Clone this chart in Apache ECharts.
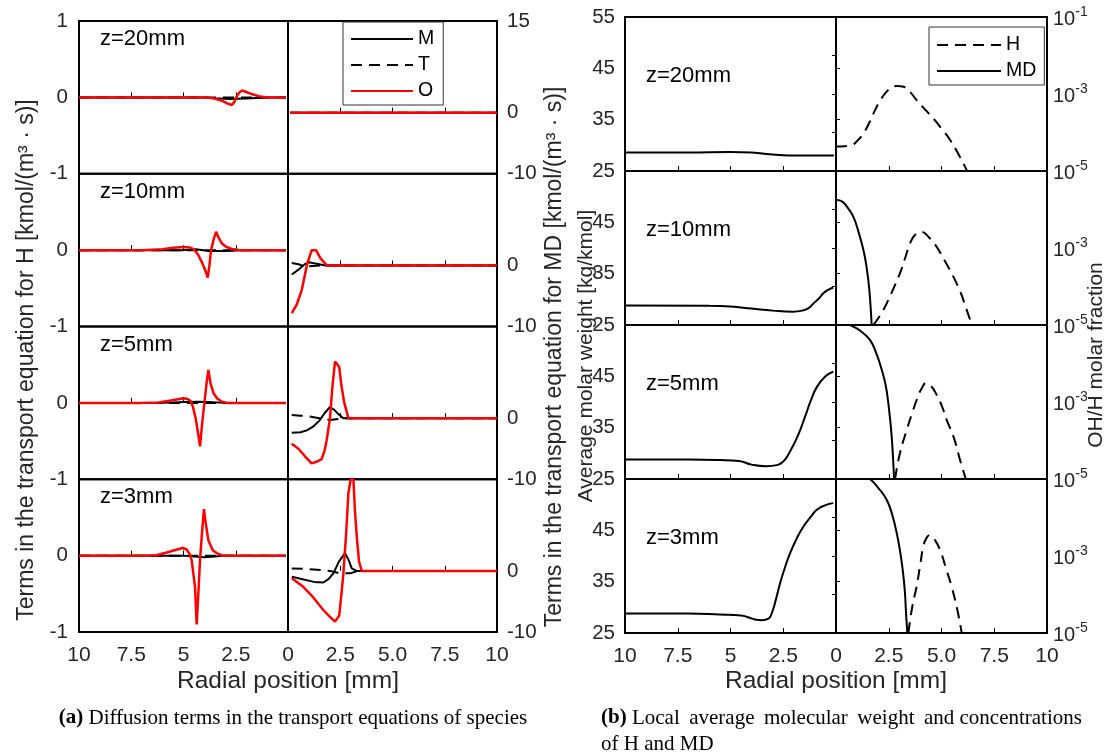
<!DOCTYPE html>
<html><head><meta charset="utf-8">
<script src="https://cdn.jsdelivr.net/npm/echarts@6/dist/echarts.min.js"></script>
<style>html,body{margin:0;padding:0;background:#fff}#c{width:1111px;height:756px}</style>
</head><body><div id="c"></div>
<script>
// ---------- labels ----------
const zLabels = ['z=20mm', 'z=10mm', 'z=5mm', 'z=3mm'];
const xTickLeft = ['0', '2.5', '5', '7.5', '10'];
const xTickRight = ['0', '2.5', '5.0', '7.5', '10'];
const legendA = ['M', 'T', 'O'];
const legendB = ['H', 'MD'];

// ---------- panel (a) left: H equation terms [r, value] ----------
const hM20 = [[10,0],[4,0],[3.5,-0.01],[2.8,-0.02],[2,-0.015],[1.2,-0.005],[0.8,0],[0.1,0]];
const hT20 = [[10,0],[0.1,0]];
const hO20 = [[10,0],[4,0],[3.6,-0.01],[3.2,-0.04],[2.9,-0.08],[2.68,-0.1],[2.55,-0.05],[2.44,0.02],[2.3,0.07],[2.19,0.09],[2.0,0.07],[1.7,0.04],[1.4,0.015],[1.0,0],[0.1,0]];
const hM10 = [[10,0],[5,0],[4.4,0.01],[3.8,-0.01],[3,-0.01],[2,0],[0.1,0]];
const hT10 = [[10,0],[0.1,0]];
const hO10 = [[10,0],[7,0],[6,0.01],[5.5,0.03],[5.0,0.04],[4.7,0.035],[4.5,0.01],[4.3,-0.06],[4.1,-0.17],[3.95,-0.27],[3.84,-0.36],[3.76,-0.2],[3.68,0],[3.55,0.15],[3.44,0.24],[3.35,0.18],[3.17,0.09],[3.0,0.05],[2.7,0.015],[2.3,0],[0.1,0]];
const hM5 = [[10,0],[6,0],[5,0.01],[4.3,0.015],[3.8,0.01],[3,0],[0.1,0]];
const hT5 = [[10,0],[0.1,0]];
const hO5 = [[10,0],[7,0],[6.2,0.005],[5.6,0.03],[5.0,0.06],[4.8,0.05],[4.65,0.02],[4.55,-0.05],[4.42,-0.2],[4.3,-0.4],[4.21,-0.57],[4.1,-0.25],[4.0,0],[3.9,0.25],[3.81,0.43],[3.7,0.25],[3.57,0.13],[3.4,0.06],[3.2,0.02],[2.9,0],[0.1,0]];
const hM3 = [[10,0],[5,0],[4.5,-0.01],[4.0,-0.02],[3.5,-0.01],[3,0],[0.1,0]];
const hT3 = [[10,0],[0.1,0]];
const hO3 = [[10,0],[7,0],[6.3,0.005],[5.8,0.04],[5.3,0.08],[5.04,0.1],[4.85,0.08],[4.7,0.02],[4.61,-0.06],[4.45,-0.41],[4.37,-0.9],[4.28,-0.45],[4.21,-0.06],[4.1,0.35],[4.02,0.61],[3.95,0.45],[3.81,0.2],[3.6,0.07],[3.4,0.03],[3.1,0],[0.1,0]];

// ---------- panel (a) right: MD equation terms [r, value] ----------
const mdM20 = [[0.1,0],[10,0]];
const mdT20 = [[0.1,0],[10,0]];
const mdO20 = [[0.1,0],[10,0]];
const mdM10 = [[0.18,-1.5],[0.5,-0.7],[0.8,0.2],[1.0,0.5],[1.3,0.3],[1.8,0],[10,0]];
const mdT10 = [[0.18,0.4],[0.5,0.2],[0.8,-0.2],[1.2,-0.1],[1.6,0],[10,0]];
const mdO10 = [[0.18,-7.8],[0.42,-6.4],[0.66,-4.0],[0.9,0],[1.13,2.5],[1.34,2.5],[1.55,1.2],[1.85,0],[10,0]];
const mdM5 = [[0.18,-2.4],[0.6,-2.3],[0.9,-2.0],[1.2,-1.4],[1.5,-0.4],[1.75,0.8],[2.0,1.8],[2.2,1.4],[2.4,0.7],[2.65,0],[10,0]];
const mdT5 = [[0.18,0.5],[0.6,0.4],[1.0,0.3],[1.5,0.0],[2.0,-0.3],[2.5,-0.1],[2.8,0],[10,0]];
const mdO5 = [[0.18,-4.2],[0.5,-5.0],[0.8,-6.2],[1.13,-7.4],[1.4,-7.1],[1.61,-6.7],[1.75,-5.3],[1.85,-3.6],[2.01,0],[2.12,5],[2.25,9.25],[2.45,8.4],[2.55,5.5],[2.68,2.7],[2.89,0],[10,0]];
const mdM3 = [[0.18,-0.95],[0.6,-1.3],[1.24,-1.8],[1.69,-1.9],[1.95,-1.3],[2.17,-0.4],[2.45,1.6],[2.73,2.9],[2.9,1.8],[3.05,0.4],[3.29,0],[10,0]];
const mdT3 = [[0.18,0.4],[1.0,0.3],[2.0,0],[2.49,-0.4],[2.97,-0.4],[3.37,0],[10,0]];
const mdO3 = [[0.18,-1.2],[0.73,-2.6],[1.2,-4.3],[1.69,-6.4],[2.0,-7.5],[2.25,-8.3],[2.45,-7.3],[2.55,-4],[2.65,-0.4],[2.78,6],[2.89,12.7],[3.0,15],[3.13,15],[3.2,10],[3.29,5.6],[3.4,1.5],[3.53,0],[10,0]];

// ---------- panel (b) left: average molar weight [r, kg/kmol] ----------
const mw20 = [[10,28.6],[7,28.6],[5,28.7],[4,28.6],[3.5,28.4],[3,28.2],[2.5,28.05],[2,28.0],[0.1,28.0]];
const mw10 = [[10,28.8],[6,28.75],[5,28.6],[4,28.2],[3,27.8],[2.04,27.6],[1.6,27.8],[1.3,28.3],[1.07,29.2],[0.8,30.2],[0.6,31.2],[0.35,31.9],[0.13,32.3]];
const mw5 = [[10,28.8],[7,28.8],[5.5,28.7],[4.6,28.5],[4.0,27.8],[3.3,27.5],[2.8,27.7],[2.5,28.4],[2.2,30.2],[1.8,33.5],[1.47,37.1],[1.2,40.2],[0.91,42.9],[0.5,45.0],[0.13,45.9]];
const mw3 = [[10,28.8],[7,28.8],[5.5,28.6],[4.5,28.4],[3.9,27.7],[3.52,27.5],[3.2,27.8],[3.05,28.8],[2.85,31.5],[2.65,34.7],[2.4,38],[2.18,40.5],[1.85,43.5],[1.55,45.7],[1.2,47.6],[0.91,49],[0.5,49.9],[0.13,50.3]];

// ---------- panel (b) right: molar fractions [r, fraction] ----------
const fracH20 = [[0,4.3e-5],[0.7,4.6e-5],[1.0,6.0e-5],[1.3,9.5e-5],[1.6,1.9e-4],[1.85,3.8e-4],[2.1,6.9e-4],[2.4,1.15e-3],[2.65,1.48e-3],[2.9,1.62e-3],[3.2,1.55e-3],[3.5,1.15e-3],[3.82,6.9e-4],[4.25,3.8e-4],[4.68,2.1e-4],[5.05,1.17e-4],[5.4,6.5e-5],[5.8,2.75e-5],[6.19,1.07e-5],[6.3,7.9e-6]];
const fracMD20 = [];
const fracH10 = [[1.77,1e-5],[2.1,1.8e-5],[2.4,3.6e-5],[2.7,8.3e-5],[3.03,2.2e-4],[3.3,6.0e-4],[3.51,1.32e-3],[3.75,2.2e-3],[4.06,2.6e-3],[4.4,1.9e-3],[4.77,1.07e-3],[5.15,4.7e-4],[5.56,1.8e-4],[5.9,7.1e-5],[6.19,2.5e-5],[6.47,8.9e-6]];
const fracMD10 = [[0,1.8e-2],[0.3,1.6e-2],[0.55,1.12e-2],[0.82,6.5e-3],[1.05,2.8e-3],[1.3,8.9e-4],[1.45,3.2e-4],[1.58,8.1e-5],[1.69,1e-5]];
const fracH5 = [[2.8,1e-5],[3.03,4.7e-5],[3.35,1.86e-4],[3.6,5.0e-4],[3.82,1.12e-3],[4.05,2.2e-3],[4.27,3.1e-3],[4.5,2.6e-3],[4.69,1.86e-3],[5.0,8.3e-4],[5.25,3.4e-4],[5.6,1.12e-4],[5.88,3.1e-5],[6.15,1e-5]];
const fracMD5 = [[0,0.16],[0.3,0.13],[0.66,0.1],[1.1,0.074],[1.61,0.041],[1.95,0.016],[2.17,6.8e-3],[2.35,2.8e-3],[2.48,9.3e-4],[2.64,1.26e-4],[2.75,1e-5]];
const fracH3 = [[3.43,1e-5],[3.62,5.0e-5],[3.82,1.6e-4],[4.0,6.3e-4],[4.14,1.8e-3],[4.3,3.0e-3],[4.45,3.5e-3],[4.65,2.8e-3],[4.93,1.45e-3],[5.2,5.0e-4],[5.48,1.6e-4],[5.75,4.0e-5],[5.96,1e-5]];
const fracMD3 = [[0,0.25],[1.0,0.16],[1.61,0.1],[2.0,0.059],[2.4,0.029],[2.65,0.0126],[2.88,3.9e-3],[3.03,1.4e-3],[3.16,4.4e-4],[3.26,1.26e-4],[3.32,3.2e-5],[3.38,1e-5]];

const hM = [hM20, hM10, hM5, hM3], hT = [hT20, hT10, hT5, hT3], hO = [hO20, hO10, hO5, hO3];
const mdM = [mdM20, mdM10, mdM5, mdM3], mdT = [mdT20, mdT10, mdT5, mdT3], mdO = [mdO20, mdO10, mdO5, mdO3];
const mw = [mw20, mw10, mw5, mw3];
const fracH = [fracH20, fracH10, fracH5, fracH3], fracMD = [fracMD20, fracMD10, fracMD5, fracMD3];

// ---------- layout ----------
const A = {x0: 79, x1: 288, x2: 497, top: 21, rowH: 152.75};
const B = {x0: 625, x1: 836, x2: 1047, top: 17, rowH: 154};
const font = 'Liberation Sans, Arial, sans-serif';
const serif = 'Liberation Serif, Times New Roman, serif';
const tickColor = '#262626';
const dash = [11, 7];
const tickSize = 20.5;

const grids = [], xAxes = [], yAxes = [], series = [], graphics = [];

function addGrid(left, top, width, height) {
  grids.push({left, top, width, height, show: true, borderColor: '#000', borderWidth: 2, backgroundColor: 'transparent', containLabel: false});
  return grids.length - 1;
}
function addX(g, isLeft, isBottom) {
  const labels = isLeft ? xTickLeft : xTickRight;
  xAxes.push({gridIndex: g, type: 'value', min: 0, max: 10, interval: 2.5, inverse: isLeft,
    axisLine: {show: false}, splitLine: {show: false},
    axisTick: {show: true, inside: true, length: 5, lineStyle: {color: '#000', width: 1}},
    axisLabel: {show: isBottom, margin: 13, fontSize: 21, fontFamily: font, color: tickColor,
      showMinLabel: isLeft, showMaxLabel: true,
      formatter: v => labels[Math.round(v / 2.5)]}});
  return xAxes.length - 1;
}
function line(name, xi, yi, data, color, width, type, smooth) {
  const s = {name, type: 'line', xAxisIndex: xi, yAxisIndex: yi, data, symbol: 'none', showSymbol: false,
    smooth: smooth || false, clip: true, silent: true, animation: false,
    lineStyle: {color, width, type}, itemStyle: {color}};
  return s;
}
function txt(x, y, text, size, o) {
  o = o || {};
  return {type: 'text', x, y, rotation: o.rot || 0, silent: true, z: 100,
    style: {text, fontSize: size, fontFamily: o.family || font, fill: o.fill || tickColor,
      align: o.align || 'center', verticalAlign: o.va || 'middle', rich: o.rich}};
}

// ---------- panel (a) ----------
for (let i = 0; i < 4; i++) {
  const top = A.top + i * A.rowH, bottom = i === 3;
  let g = addGrid(A.x0, top, A.x1 - A.x0, A.rowH);
  let xi = addX(g, true, bottom);
  yAxes.push({gridIndex: g, type: 'value', min: -1, max: 1, interval: 1, position: 'left',
    axisLine: {show: false}, axisTick: {show: false}, splitLine: {show: false},
    axisLabel: {fontSize: tickSize, fontFamily: font, color: tickColor, margin: 11, showMaxLabel: i === 0, showMinLabel: true}});
  let yi = yAxes.length - 1;
  series.push(line('M', xi, yi, hM[i], '#000', 2, 'solid'));
  series.push(line('T', xi, yi, hT[i], '#000', 2, dash));
  series.push(line('O', xi, yi, hO[i], '#ff0000', 2.5, 'solid'));

  g = addGrid(A.x1, top, A.x2 - A.x1, A.rowH);
  xi = addX(g, false, bottom);
  const row = i;
  yAxes.push({gridIndex: g, type: 'value', min: -10, max: 15, interval: 5, position: 'right',
    axisLine: {show: false}, axisTick: {show: false}, splitLine: {show: false},
    axisLabel: {fontSize: tickSize, fontFamily: font, color: tickColor, margin: 10, showMaxLabel: true, showMinLabel: true,
      formatter: v => (v === -10 || v === 0 || (row === 0 && v === 15)) ? String(v) : ''}});
  yi = yAxes.length - 1;
  series.push(line('M', xi, yi, mdM[i], '#000', 2, 'solid'));
  series.push(line('T', xi, yi, mdT[i], '#000', 2, dash));
  series.push(line('O', xi, yi, mdO[i], '#ff0000', 2.5, 'solid'));
  graphics.push(txt(100, top + 18, zLabels[i], 22, {align: 'left', fill: '#000'}));
}

// ---------- panel (b) ----------
for (let i = 0; i < 4; i++) {
  const top = B.top + i * B.rowH, bottom = i === 3;
  let g = addGrid(B.x0, top, B.x1 - B.x0, B.rowH);
  let xi = addX(g, true, bottom);
  yAxes.push({gridIndex: g, type: 'value', min: 25, max: 55, interval: 10, position: 'left',
    axisLine: {show: false}, splitLine: {show: false},
    axisTick: {show: true, inside: true, length: 4, lineStyle: {color: '#000'}},
    axisLabel: {fontSize: tickSize, fontFamily: font, color: tickColor, margin: 10, showMaxLabel: i === 0, showMinLabel: true}});
  let yi = yAxes.length - 1;
  series.push(line('MW', xi, yi, mw[i], '#000', 2, 'solid', 0.5));

  g = addGrid(B.x1, top, B.x2 - B.x1, B.rowH);
  xi = addX(g, false, bottom);
  const row = i;
  yAxes.push({gridIndex: g, type: 'log', logBase: 10, min: 1e-5, max: 1e-1, position: 'right',
    axisLine: {show: false}, splitLine: {show: false},
    axisTick: {show: true, inside: true, length: 4, lineStyle: {color: '#000'}},
    axisLabel: {margin: 6, color: tickColor, showMaxLabel: true, showMinLabel: true,
      formatter: v => {
        const e = Math.round(Math.log10(v));
        if (Math.abs(e) % 2 !== 1) return '';
        if (e === -1 && row !== 0) return '';
        return '{b|10}{s|' + e + '}';
      },
      rich: {b: {fontSize: 20, fontFamily: font, color: tickColor, lineHeight: 24, verticalAlign: 'bottom'},
             s: {fontSize: 14, fontFamily: font, color: tickColor, lineHeight: 14, verticalAlign: 'top'}}}});
  yi = yAxes.length - 1;
  series.push(line('MD', xi, yi, fracMD[i], '#000', 2, 'solid', 0.45));
  series.push(line('H', xi, yi, fracH[i], '#000', 2, dash, 0.45));
  graphics.push(txt(646, top + 59, zLabels[i], 22, {align: 'left', fill: '#000'}));
}

// ---------- titles ----------
graphics.push(txt(27, 360, 'Terms in the transport equation for H [kmol/(m³ · s)]', 23, {rot: Math.PI / 2}));
graphics.push(txt(555, 357, 'Terms in the transport equation for MD [kmol/(m³ · s)]', 23, {rot: Math.PI / 2}));
graphics.push(txt(288, 681, 'Radial position [mm]', 24.5));
graphics.push(txt(586, 356, 'Average molar weight [kg/kmol]', 21, {rot: Math.PI / 2}));
graphics.push(txt(1096, 355, 'OH/H molar fraction', 21, {rot: Math.PI / 2}));
graphics.push(txt(836, 681, 'Radial position [mm]', 24.5));
const boldRich = {b: {fontWeight: 'bold', fontFamily: serif, fontSize: 21, fill: '#000'}};
graphics.push(txt(293, 718, '{b|(a)} Diffusion terms in the transport equations of species', 21,
  {family: serif, fill: '#000', rich: boldRich}));
graphics.push(txt(601, 718, '{b|(b)} Local \u2009average \u2009molecular \u2009weight \u2009and concentrations', 21,
  {family: serif, fill: '#000', align: 'left', rich: boldRich}));
graphics.push(txt(601, 744, 'of H and MD', 21, {family: serif, fill: '#000', align: 'left'}));

const legendCommon = {orient: 'vertical', selectedMode: false, backgroundColor: '#fff', borderColor: '#333', borderWidth: 1,
  itemGap: 6, itemHeight: 14, itemStyle: {opacity: 0}, lineStyle: {opacity: 1},
  textStyle: {fontSize: 19.5, fontFamily: font, color: '#000', lineHeight: 20}, z: 50};

const option = {
  animation: false,
  backgroundColor: '#fff',
  textStyle: {fontFamily: font},
  grid: grids, xAxis: xAxes, yAxis: yAxes, series,
  legend: [
    Object.assign({}, legendCommon, {data: legendA, left: 343, top: 22, itemWidth: 62, padding: [7, 9, 4, 7]}),
    Object.assign({}, legendCommon, {data: legendB, left: 929, top: 27, itemWidth: 64, padding: [8, 8, 4, 7]})
  ],
  graphic: graphics
};
const chart = echarts.init(document.getElementById('c'), null, {renderer: 'canvas'});
chart.setOption(option);
</script></body></html>
